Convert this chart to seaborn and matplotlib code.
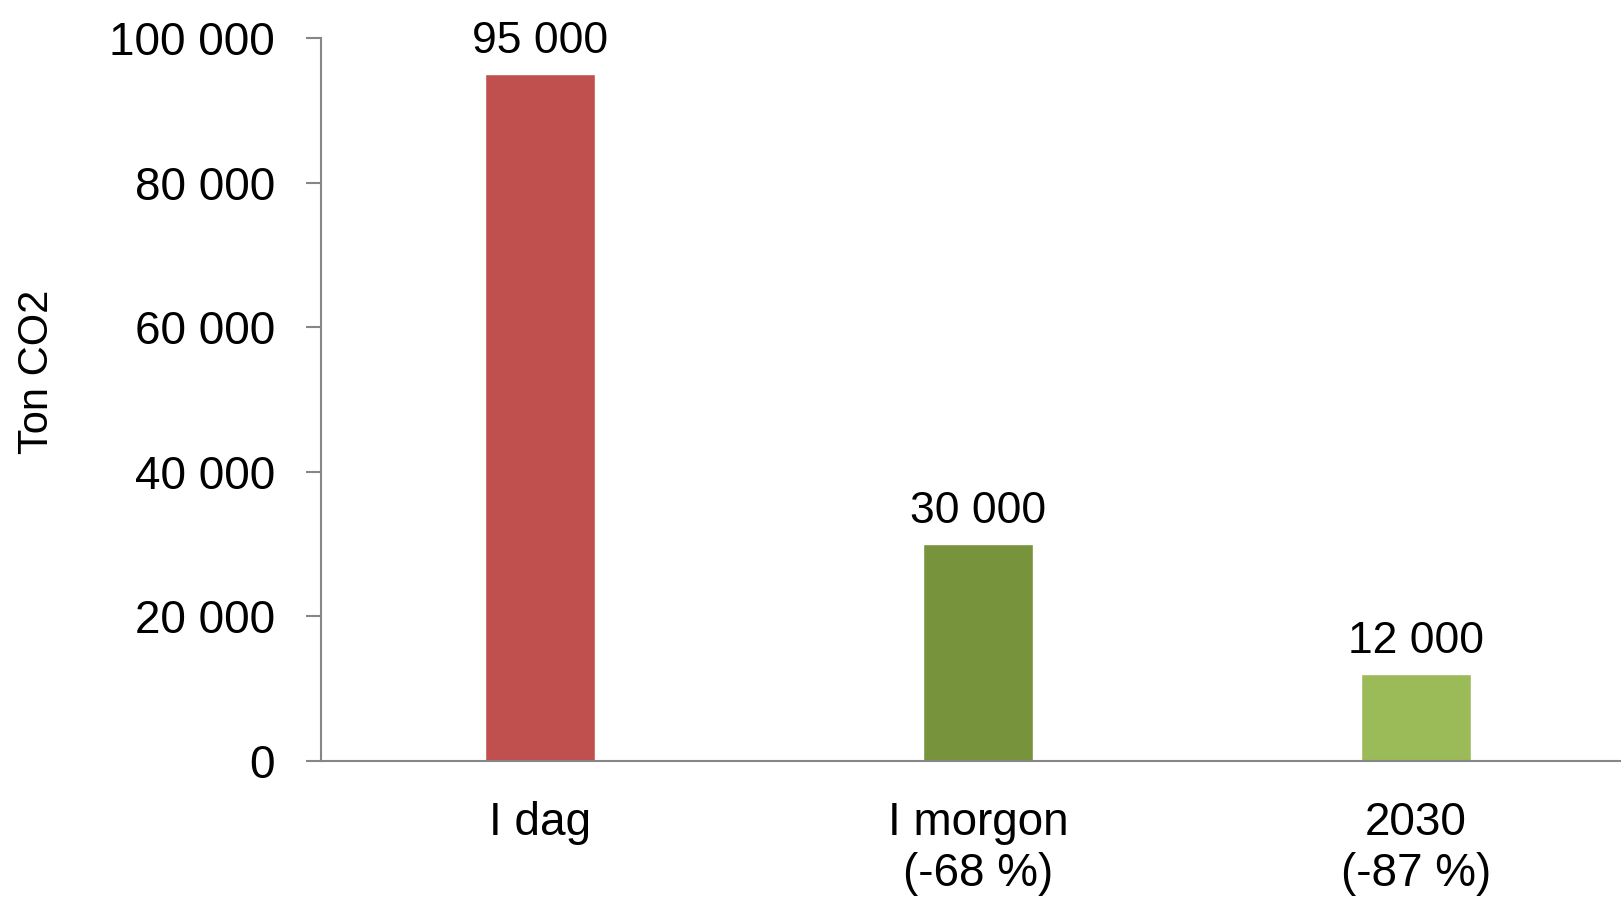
import matplotlib
matplotlib.use("Agg")
import matplotlib.pyplot as plt
import seaborn as sns
import pandas as pd

categories = ["I dag", "I morgon\n(-68 %)", "2030\n(-87 %)"]
values = [95000, 30000, 12000]
colors = ["#C0504D", "#77933C", "#9BBB59"]
yticks = [0, 20000, 40000, 60000, 80000, 100000]

sns.set_theme(style="white")
plt.rcParams["font.family"] = ["Liberation Sans", "DejaVu Sans"]

fig = plt.figure(figsize=(16.21, 9.01), dpi=100)
W, H = 1621, 901
ax = fig.add_axes([321 / W, 1 - 761 / H, (1635 - 321) / W, (761 - 38) / H])

df = pd.DataFrame({"cat": categories, "val": values})
sns.barplot(data=df, x="cat", y="val", hue="cat", palette=colors, width=0.25,
            ax=ax, legend=False, saturation=1, order=categories, hue_order=categories)

fmt = lambda v: f"{int(round(v)):,}".replace(",", " ")
for cont in ax.containers:
    ax.bar_label(cont, labels=[fmt(b.get_height()) for b in cont], padding=9,
                 fontsize=32, color="black")

ax.set_xlim(-0.5, 2.5)
ax.set_ylim(0, 100000)
ax.set_yticks(yticks)
ax.set_yticklabels([fmt(v) for v in yticks])
ax.set_xticks([-0.5, 0.5, 1.5, 2.5], minor=True)
ax.tick_params(axis="x", which="major", length=0, pad=29, labelsize=33, labelcolor="black")
ax.tick_params(axis="x", which="minor", length=11, width=1.5, color="#868686")
ax.tick_params(axis="y", length=11, width=1.5, color="#868686", pad=22, labelsize=33,
               labelcolor="black", left=True)
for lab in ax.get_xticklabels():
    lab.set_linespacing(1.2)

for s in ["top", "right"]:
    ax.spines[s].set_visible(False)
for s in ["left", "bottom"]:
    ax.spines[s].set_color("#868686")
    ax.spines[s].set_linewidth(1.5)

ax.set_xlabel("")
ax.set_ylabel("Ton CO2", fontsize=30, color="black")
ax.yaxis.set_label_coords(-0.201, 0.538)

fig.savefig("out.png", dpi=100, facecolor="white")
